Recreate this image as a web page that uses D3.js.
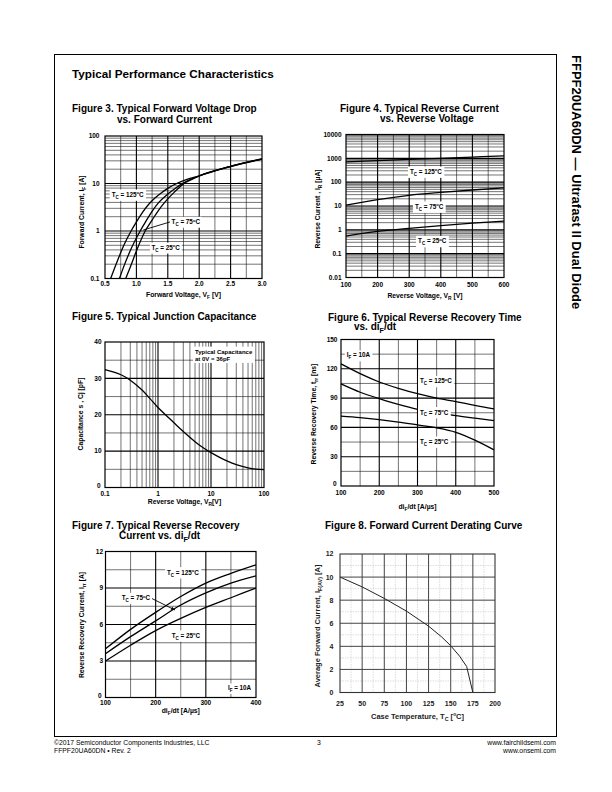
<!DOCTYPE html>
<html><head><meta charset="utf-8">
<script src="https://cdn.jsdelivr.net/npm/d3@7"></script>
<style>body{margin:0;background:#fff} svg text{font-family:'Liberation Sans',Arial,Helvetica,sans-serif}</style>
</head><body>
<svg id="c" width="612" height="792"></svg>
<script>
// ---------------- DATA ----------------
// Figure 3: forward voltage [V] vs forward current [A]
const fig3V125 = [0.59,0.7,0.8,0.915,1.0,1.1,1.2,1.3,1.4,1.5,1.6,1.75,2.0,2.25,2.5,2.75,3.0];
const fig3I125 = [0.1,0.24,0.5,1.0,1.55,2.5,3.7,5.0,6.4,7.9,9.4,11.5,14.5,18.5,23,28,33];
const fig3V75  = [0.73,0.8,0.9,1.06,1.15,1.25,1.35,1.5,1.6,1.75,2.0,2.5,3.0];
const fig3I75  = [0.1,0.18,0.38,1.0,1.6,2.6,3.9,6.0,7.6,10.3,14.5,23,33];
const fig3V25  = [0.83,0.9,1.0,1.14,1.25,1.35,1.45,1.6,1.75,1.9,2.0,2.5,3.0];
const fig3I25  = [0.1,0.17,0.38,1.0,1.7,2.7,4.0,6.5,9.8,12.5,14.4,22.8,32.5];
const fig3XTicks = [0.5,1.0,1.5,2.0,2.5,3.0];
const fig3XLabels = ["0.5","1.0","1.5","2.0","2.5","3.0"];
const fig3YTicks = [0.1,1,10,100];
const fig3YLabels = ["0.1","1","10","100"];

// Figure 4: reverse voltage [V] vs reverse current [uA]
const fig4V = [100,200,300,400,500,600];
const fig4I125 = [713,800,900,1000,1130,1270];
const fig4I75  = [10.8,18.5,28,37,47,58];
const fig4I25  = [0.55,0.86,1.15,1.5,1.9,2.3];
const fig4XTicks = [100,200,300,400,500,600];
const fig4XLabels = ["100","200","300","400","500","600"];
const fig4YTicks = [0.01,0.1,1,10,100,1000,10000];
const fig4YLabels = ["0.01","0.1","1","10","100","1000","10000"];

// Figure 5: reverse voltage [V] vs capacitance [pF]
const fig5V = [0.1,0.2,0.3,0.5,0.7,1,2,3,5,7,10,20,30,50,70,100];
const fig5C = [32.4,31.0,29.5,26.8,24.5,22.0,17.8,15.4,12.6,11.0,9.6,7.3,6.3,5.4,5.05,4.9];
const fig5XTicks = [0.1,1,10,100];
const fig5XLabels = ["0.1","1","10","100"];
const fig5YTicks = [0,10,20,30,40];
const fig5YLabels = ["0","10","20","30","40"];

// Figure 6: diF/dt [A/us] vs trr [ns]
const fig6D = [100,150,200,250,300,350,400,450,500];
const fig6T125 = [125,115,106.5,100,94.5,90,86.5,82.5,79];
const fig6T75  = [104.5,96,89.5,83.5,78.5,75,72,69.5,67];
const fig6T25  = [71.5,70,68,65.5,62.5,59.5,55,47,37];
const fig6XTicks = [100,200,300,400,500];
const fig6XLabels = ["100","200","300","400","500"];
const fig6YTicks = [0,30,60,90,120,150];
const fig6YLabels = ["0","30","60","90","120","150"];

// Figure 7: diF/dt [A/us] vs Irr [A]
const fig7D = [100,150,200,250,300,350,400];
const fig7I125 = [4.0,5.6,7.0,8.3,9.4,10.2,10.9];
const fig7I75  = [3.6,5.0,6.3,7.6,8.6,9.4,10.0];
const fig7I25  = [3.0,4.3,5.5,6.5,7.4,8.2,9.0];
const fig7XTicks = [100,200,300,400];
const fig7XLabels = ["100","200","300","400"];
const fig7YTicks = [0,3,6,9,12];
const fig7YLabels = ["0","3","6","9","12"];

// Figure 8: case temperature [C] vs IF(AV) [A]
const fig8T = [25,50,75,100,125,140,150,160,168,175];
const fig8I = [10,9.15,8.15,7.05,5.75,4.8,4.05,3.15,2.25,0];
const fig8XTicks = [25,50,75,100,125,150,175,200];
const fig8XLabels = ["25","50","75","100","125","150","175","200"];
const fig8YTicks = [0,2,4,6,8,10,12];
const fig8YLabels = ["0","2","4","6","8","10","12"];

// ---------------- HELPERS ----------------
const svg = d3.select("#c");

function rich(t, str, size) {
  const parts = str.split(/(_\{[^}]*\}|\^\{[^}]*\})/).filter(p => p !== "");
  let shift = 0;
  parts.forEach(p => {
    let target = 0, fs = size, txt = p;
    if (p.startsWith("_{")) { target = size * 0.3; fs = size * 0.72; txt = p.slice(2, -1); }
    else if (p.startsWith("^{")) { target = -size * 0.4; fs = size * 0.65; txt = p.slice(2, -1); }
    t.append("tspan").attr("dy", target - shift).attr("font-size", fs).text(txt);
    shift = target;
  });
}
function addText(parent, x, y, str, o = {}) {
  const size = o.size || 7;
  const t = parent.append("text").attr("x", x).attr("y", y).attr("font-size", size)
    .attr("font-weight", o.weight || "bold").attr("text-anchor", o.anchor || "start")
    .attr("fill", o.fill || "#000");
  if (o.transform) t.attr("transform", o.transform);
  rich(t, str, size);
  return t;
}
function boxed(parent, x, y, str, size, pad) {
  const t = addText(parent, x, y, str, {size});
  const b = t.node().getBBox();
  parent.insert("rect", () => t.node()).attr("x", b.x - pad).attr("y", b.y - pad * 0.5)
    .attr("width", b.width + 2 * pad).attr("height", b.height + pad).attr("fill", "#fff");
  return t;
}
function logMinor(lo, hi) {
  const out = [];
  for (let d = lo; d < hi * 0.999; d *= 10) for (let k = 2; k <= 9; k++) out.push(d * k);
  return out;
}

function panel(p) {
  const g = svg.append("g");
  const x = p.x, y = p.y;
  const [xa, xb] = x.range(); const [yb, ya] = y.range();
  const grid = (vals, horiz, w, col, dash) => g.append("g").selectAll("line").data(vals).join("line")
    .attr("x1", d => horiz ? xa : x(d)).attr("x2", d => horiz ? xb : x(d))
    .attr("y1", d => horiz ? y(d) : ya).attr("y2", d => horiz ? y(d) : yb)
    .attr("stroke", col).attr("stroke-width", w).attr("stroke-dasharray", dash || null);
  grid(p.xMinor, false, p.minorW, p.minorC, p.minorDash);
  grid(p.yMinor, true, p.minorW, p.minorC, p.minorDash);
  grid(p.xMajor, false, p.majorW, p.majorC);
  grid(p.yMajor, true, p.majorW, p.majorC);
  const gen = d3.line().x(d => x(d[0])).y(d => y(d[1])).curve(p.curve || d3.curveMonotoneX);
  p.series.forEach(s => g.append("path").attr("d", gen(d3.zip(s[0], s[1])))
    .attr("fill", "none").attr("stroke", p.curveC || "#000").attr("stroke-width", p.curveW || 1.3));
  g.append("rect").attr("x", xa).attr("y", ya).attr("width", xb - xa).attr("height", yb - ya)
    .attr("fill", "none").attr("stroke", p.frameC || "#000").attr("stroke-width", p.frameW || 1.2);
  const tc = p.tickC || "#000";
  p.xTicks.forEach((v, i) => addText(g, x(v), yb + p.xTickDy, p.xTickLabels[i], {size: p.tickSize, anchor: "middle", fill: tc}));
  p.yTicks.forEach((v, i) => addText(g, xa - p.yTickDx - (i === 0 ? (p.y0Extra || 0) : 0),
    y(v) + p.tickSize * 0.35 - (i === 0 ? (p.y0Up || 0) : 0), p.yTickLabels[i], {size: p.tickSize, anchor: "end", fill: tc}));
  addText(g, (xa + xb) / 2 + (p.xTitleShift || 0), yb + p.xTitleDy, p.xTitle, {size: p.titleSize, anchor: "middle", fill: tc});
  addText(g, 0, 0, p.yTitle, {size: p.titleSize, anchor: "middle", fill: tc,
    transform: `translate(${p.yTitleX},${p.yTitleY}) rotate(-90)`});
  return g;
}

const common = {minorW: 0.55, minorC: "#000", majorW: 1.1, majorC: "#000", tickSize: 6.5, titleSize: 6.8};

// ---------------- PAGE ----------------
svg.append("rect").attr("x", 54.5).attr("y", 54.5).attr("width", 502).attr("height", 682)
  .attr("fill", "none").attr("stroke", "#000").attr("stroke-width", 1);
addText(svg, 72, 78, "Typical Performance Characteristics", {size: 11.7});
addText(svg, 0, 0, "FFPF20UA60DN — Ultrafast II Dual Diode", {size: 13, transform: "translate(571.5,55) rotate(90)"});
addText(svg, 54, 744.5, "©2017 Semiconductor Components Industries, LLC", {size: 6.8, weight: "normal"});
addText(svg, 54, 752.5, "FFPF20UA60DN • Rev. 2", {size: 6.8, weight: "normal"});
addText(svg, 319, 744.5, "3", {size: 6.8, weight: "normal", anchor: "middle"});
addText(svg, 556, 744.5, "www.fairchildsemi.com", {size: 6.8, weight: "normal", anchor: "end"});
addText(svg, 556, 752.5, "www.onsemi.com", {size: 6.8, weight: "normal", anchor: "end"});

const TS = 10;
addText(svg, 72, 112, "Figure 3. Typical Forward Voltage Drop", {size: TS});
addText(svg, 117, 123, "vs. Forward Current", {size: TS});
addText(svg, 340, 111.5, "Figure 4. Typical Reverse Current", {size: TS});
addText(svg, 380, 122, "vs. Reverse Voltage", {size: TS});
addText(svg, 72, 320, "Figure 5. Typical Junction Capacitance", {size: TS});
addText(svg, 328, 320.5, "Figure 6. Typical Reverse Recovery Time", {size: TS});
addText(svg, 354, 330, "vs. di_{F}/dt", {size: TS});
addText(svg, 72, 529, "Figure 7. Typical Reverse Recovery", {size: TS});
addText(svg, 119, 538.5, "Current vs. di_{F}/dt", {size: TS});
addText(svg, 325, 529, "Figure 8. Forward Current Derating Curve", {size: TS});

// Figure 3
{
  const x = d3.scaleLinear().domain([0.5, 3.0]).range([105, 262]);
  const y = d3.scaleLog().domain([0.1, 100]).range([278.5, 136]);
  const g = panel(Object.assign({}, common, {x, y,
    xMinor: [0.75,1.25,1.75,2.25,2.75], xMajor: [1.0,1.5,2.0,2.5],
    yMinor: logMinor(0.1, 100), yMajor: [1, 10],
    series: [[fig3V125, fig3I125], [fig3V75, fig3I75], [fig3V25, fig3I25]],
    xTicks: fig3XTicks, xTickLabels: fig3XLabels, yTicks: fig3YTicks, yTickLabels: fig3YLabels,
    xTickDy: 7.5, yTickDx: 5.5, xTitleDy: 18.5, xTitle: "Forward Voltage, V_{F} [V]",
    yTitle: "Forward Current, I_{F} [A]", yTitleX: 84, yTitleY: 212}));
  boxed(g, x(0.607), y(5.2), "T_{C} = 125^{o}C", 6.3, 2);
  g.append("line").attr("x1", x(1.535)).attr("y1", y(1.55)).attr("x2", x(1.11)).attr("y2", y(1.05))
    .attr("stroke", "#000").attr("stroke-width", 0.9);
  boxed(g, x(1.56), y(1.4), "T_{C} = 75^{o}C", 6.3, 1.5);
  boxed(g, x(1.24), y(0.4), "T_{C} = 25^{o}C", 6.3, 1.5);
}
// Figure 4
{
  const x = d3.scaleLinear().domain([100, 600]).range([346, 504]);
  const y = d3.scaleLog().domain([0.01, 10000]).range([277.5, 134.5]);
  const g = panel(Object.assign({}, common, {x, y,
    xMinor: [150,250,350,450,550], xMajor: [200,300,400,500],
    yMinor: logMinor(0.01, 10000), yMajor: [0.1,1,10,100,1000],
    series: [[fig4V, fig4I125], [fig4V, fig4I75], [fig4V, fig4I25]],
    xTicks: fig4XTicks, xTickLabels: fig4XLabels, yTicks: fig4YTicks, yTickLabels: fig4YLabels,
    xTickDy: 9.5, yTickDx: 4.5, xTitleDy: 20.5, xTitle: "Reverse Voltage, V_{R} [V]",
    yTitle: "Reverse Current , I_{R} [µA]", yTitleX: 320, yTitleY: 209}));
  boxed(g, x(302.5), y(220), "T_{C} = 125^{o}C", 6.3, 2);
  boxed(g, x(318), y(7.5), "T_{C} = 75^{o}C", 6.3, 2);
  boxed(g, x(328), y(0.27), "T_{C} = 25^{o}C", 6.3, 2);
}
// Figure 5
{
  const x = d3.scaleLog().domain([0.1, 100]).range([105, 264]);
  const y = d3.scaleLinear().domain([0, 40]).range([487.5, 342]);
  const g = panel(Object.assign({}, common, {x, y,
    xMinor: logMinor(0.1, 100), xMajor: [1, 10],
    yMinor: [5,15,25,35], yMajor: [10,20,30],
    series: [[fig5V, fig5C]], curve: d3.curveCatmullRom,
    xTicks: fig5XTicks, xTickLabels: fig5XLabels, yTicks: fig5YTicks, yTickLabels: fig5YLabels,
    xTickDy: 8, yTickDx: 3.5, y0Extra: 1, y0Up: 1.5, xTitleDy: 16.5, xTitle: "Reverse Voltage, V_{R}[V]",
    yTitle: "Capacitance s , Cj [pF]", yTitleX: 82.5, yTitleY: 414}));
  const gl = g.append("g");
  const t1 = addText(gl, x(5.0), y(36.8), "Typical Capacitance", {size: 6});
  const t2 = addText(gl, x(5.0), y(34.8), "at 0V =  36pF", {size: 6});
  const b1 = t1.node().getBBox(), b2 = t2.node().getBBox();
  gl.insert("rect", () => t1.node()).attr("x", b1.x - 2).attr("y", b1.y - 2)
    .attr("width", Math.max(b1.width, b2.width) + 4).attr("height", b2.y + b2.height - b1.y + 3).attr("fill", "#fff");
}
// Figure 6
{
  const x = d3.scaleLinear().domain([100, 500]).range([341, 494]);
  const y = d3.scaleLinear().domain([0, 150]).range([486, 339.5]);
  const g = panel(Object.assign({}, common, {x, y,
    xMinor: [150,250,350,450], xMajor: [200,300,400],
    yMinor: [15,45,75,105,135], yMajor: [30,60,90,120],
    series: [[fig6D, fig6T125], [fig6D, fig6T75], [fig6D, fig6T25]],
    xTicks: fig6XTicks, xTickLabels: fig6XLabels, yTicks: fig6YTicks, yTickLabels: fig6YLabels,
    xTickDy: 8.5, yTickDx: 3.5, y0Extra: 1, y0Up: 2, xTitleDy: 22.5, xTitle: "di_{F}/dt [A/µs]",
    yTitle: "Reverse Recovery Time, t_{rr} [ns]", yTitleX: 316, yTitleY: 414}));
  boxed(g, x(115), y(131.6), "I_{F} = 10A", 6.3, 2);
  boxed(g, x(306.5), y(105), "T_{C} = 125^{o}C", 6.3, 2);
  boxed(g, x(306.5), y(73.2), "T_{C} = 75^{o}C", 6.3, 2);
  boxed(g, x(306.5), y(43), "T_{C} = 25^{o}C", 6.3, 2);
}
// Figure 7
{
  const x = d3.scaleLinear().domain([100, 400]).range([105.5, 256]);
  const y = d3.scaleLinear().domain([0, 12]).range([697.5, 551.5]);
  const g = panel(Object.assign({}, common, {x, y,
    xMinor: [150,250,350], xMajor: [200,300],
    yMinor: [1.5,4.5,7.5,10.5], yMajor: [3,6,9],
    series: [[fig7D, fig7I125], [fig7D, fig7I75], [fig7D, fig7I25]],
    xTicks: fig7XTicks, xTickLabels: fig7XLabels, yTicks: fig7YTicks, yTickLabels: fig7YLabels,
    xTickDy: 7.5, yTickDx: 2.5, y0Extra: 1.5, y0Up: 2, xTitleDy: 15, xTitle: "di_{F}/dt [A/µs]",
    yTitle: "Reverse Recovery Current, I_{rr} [A]", yTitleX: 84, yTitleY: 625}));
  boxed(g, x(222.6), y(10.1), "T_{C} = 125^{o}C", 6.3, 2);
  boxed(g, x(132.3), y(8.0), "T_{C} = 75^{o}C", 6.3, 1.5);
  const ax1 = x(192.8), ay1 = y(8.13), ax2 = x(238.5), ay2 = y(7.19);
  g.append("line").attr("x1", ax1).attr("y1", ay1).attr("x2", ax2).attr("y2", ay2)
    .attr("stroke", "#000").attr("stroke-width", 0.9);
  const ang = Math.atan2(ay2 - ay1, ax2 - ax1), L = 4, W = 1.8;
  g.append("path").attr("d", `M${ax2},${ay2}L${ax2 - L*Math.cos(ang) + W*Math.sin(ang)},${ay2 - L*Math.sin(ang) - W*Math.cos(ang)}L${ax2 - L*Math.cos(ang) - W*Math.sin(ang)},${ay2 - L*Math.sin(ang) + W*Math.cos(ang)}Z`)
    .attr("fill", "#000");
  boxed(g, x(232), y(4.9), "T_{C} = 25^{o}C", 6.3, 2);
  boxed(g, x(344), y(0.6), "I_{F} = 10A", 6.3, 1.5);
}
// Figure 8
{
  const x = d3.scaleLinear().domain([25, 200]).range([340, 495]);
  const y = d3.scaleLinear().domain([0, 12]).range([692.5, 554]);
  panel(Object.assign({}, common, {x, y,
    minorW: 0.7, minorC: "#cfcfcf", minorDash: "1.5,1", majorW: 1, majorC: "#444",
    xMinor: [37.5,62.5,87.5,112.5,137.5,162.5,187.5], xMajor: [50,75,100,125,150,175],
    yMinor: [1,3,5,7,9,11], yMajor: [2,4,6,8,10],
    series: [[fig8T, fig8I]], curve: d3.curveLinear, curveW: 1, curveC: "#222",
    frameC: "#333", frameW: 1.1, tickC: "#222",
    xTicks: fig8XTicks, xTickLabels: fig8XLabels, yTicks: fig8YTicks, yTickLabels: fig8YLabels,
    tickSize: 7, titleSize: 7.5,
    xTickDy: 13, yTickDx: 6.5, xTitleDy: 26.5, xTitle: "Case Temperature, T_{C} [^{o}C]",
    yTitle: "Average Forward Current, I_{F(AV)} [A]", yTitleX: 320, yTitleY: 626}));
}
</script>
</body></html>
